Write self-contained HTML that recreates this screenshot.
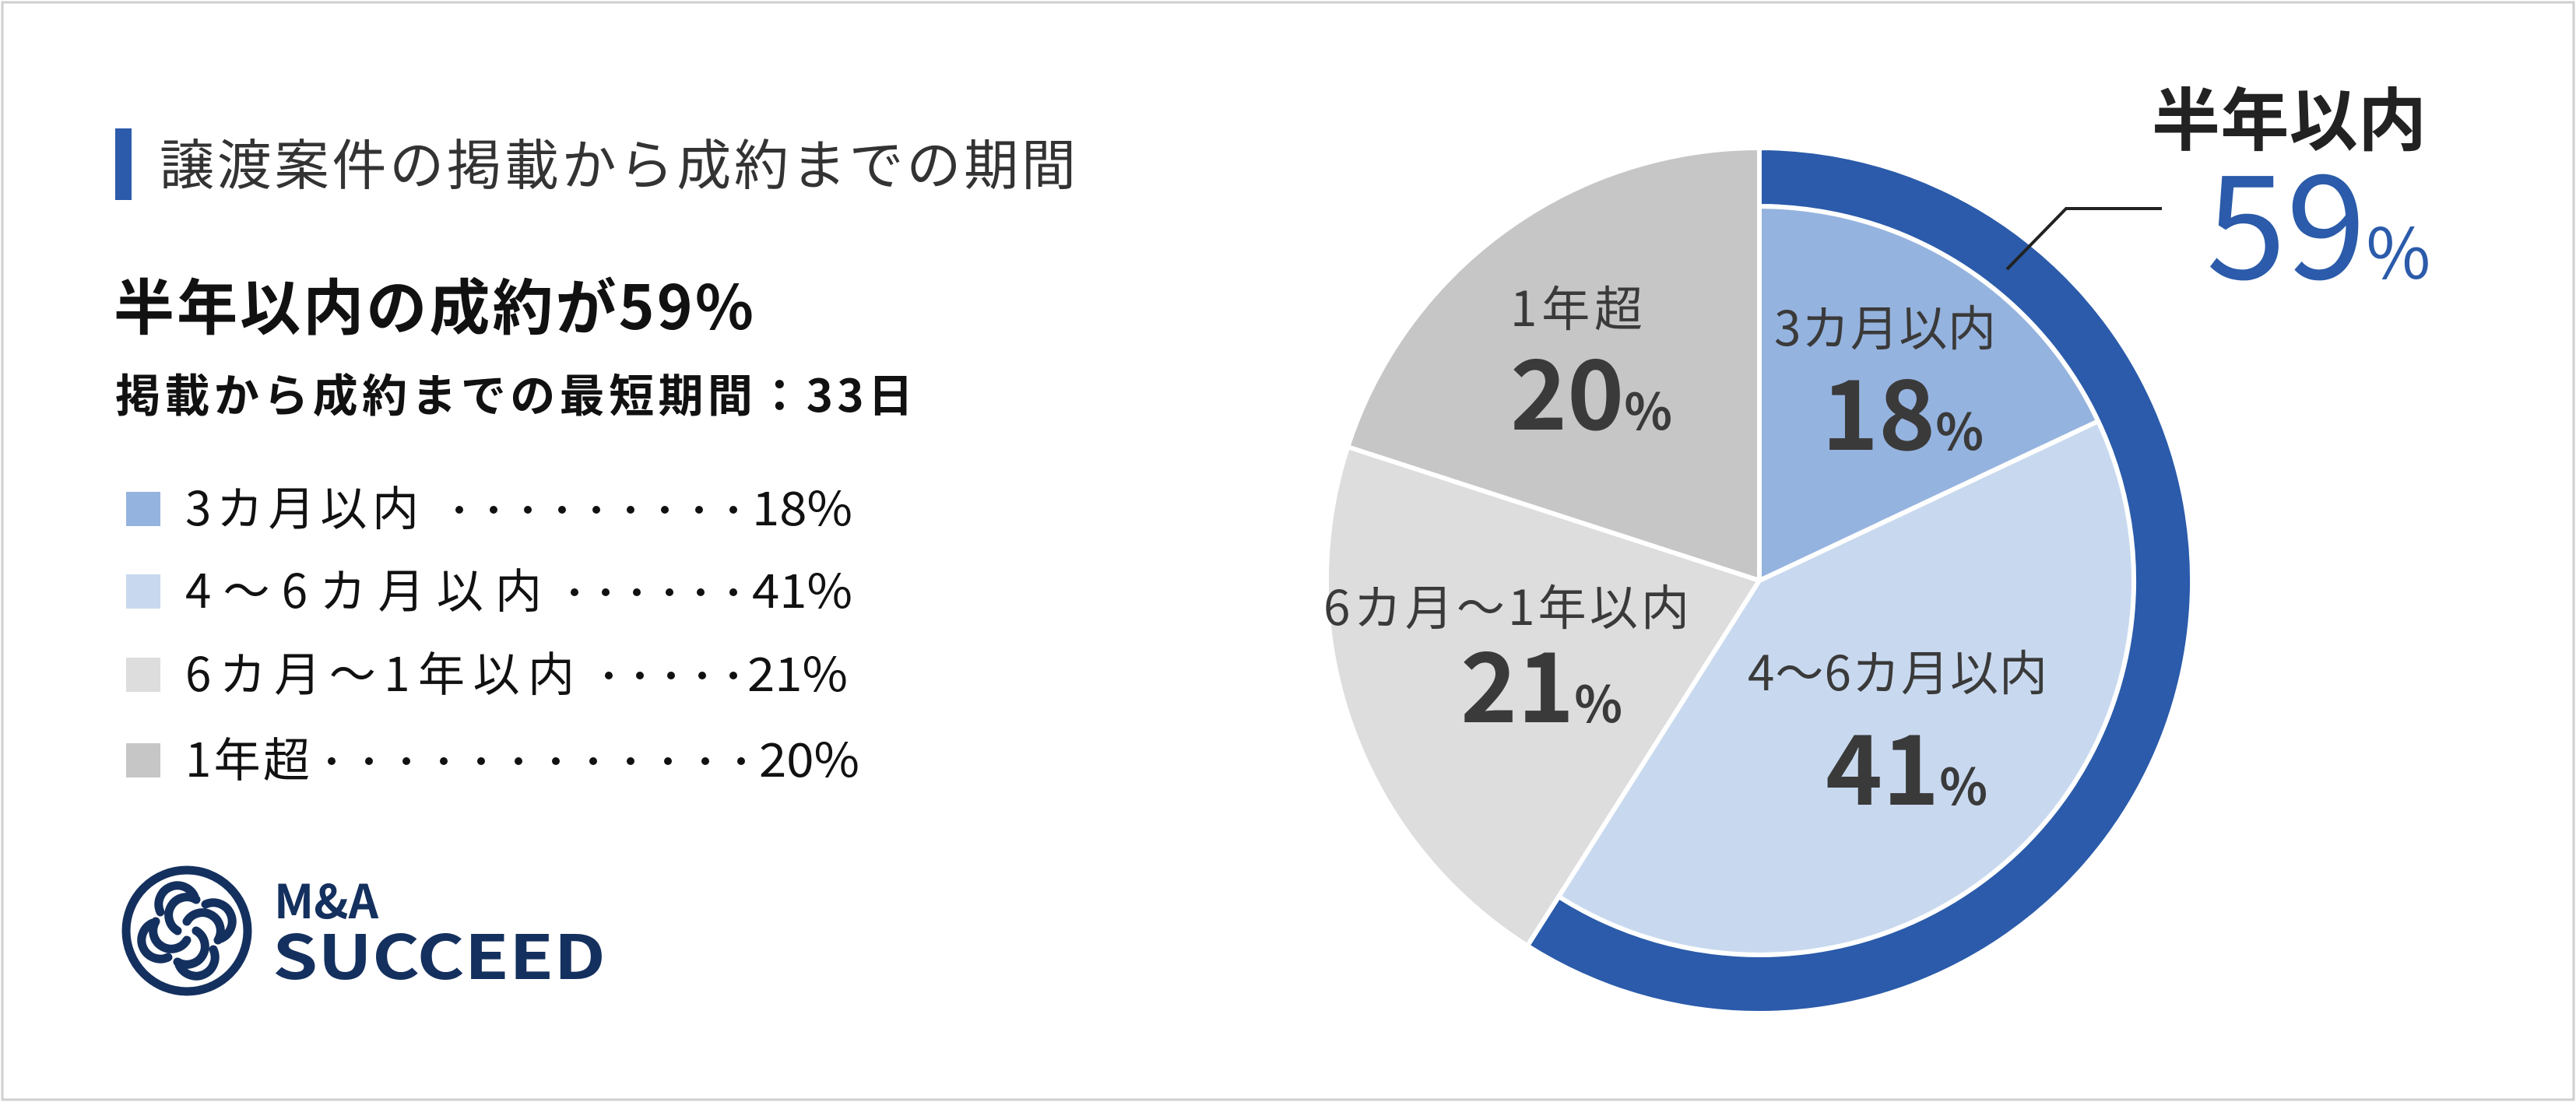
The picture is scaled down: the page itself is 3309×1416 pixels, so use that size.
<!DOCTYPE html>
<html><head><meta charset="utf-8"><style>
html,body{margin:0;padding:0;background:#fff}
svg{display:block}
text{font-family:"Noto Sans CJK JP","Liberation Sans",sans-serif}
</style></head><body>
<svg width="3309" height="1416" viewBox="0 0 3309 1416" xmlns="http://www.w3.org/2000/svg">
<rect x="3" y="3" width="3303" height="1410" fill="#fff" stroke="#cfcfcf" stroke-width="3"/>
<rect x="148" y="165" width="21" height="92" fill="#2B5BAA"/>
<text x="205" y="237" font-size="70" fill="#333" textLength="1177" lengthAdjust="spacing">譲渡案件の掲載から成約までの期間</text>
<text x="146" y="423" font-size="78" font-weight="bold" fill="#111" textLength="822" lengthAdjust="spacing">半年以内の成約が59%</text>
<text x="148" y="529" font-size="58" font-weight="bold" fill="#111" textLength="1025" lengthAdjust="spacing">掲載から成約までの最短期間：33日</text>
<g font-size="60" fill="#111">
<rect x="162" y="632" width="44" height="44" fill="#95B3DF"/>
<text x="238" y="675" textLength="300" lengthAdjust="spacing">3カ月以内</text>
<text x="966" y="675" textLength="129" lengthAdjust="spacingAndGlyphs">18%</text>
<rect x="162" y="738" width="44" height="44" fill="#C8D9EF"/>
<text x="238" y="781" textLength="458" lengthAdjust="spacing">4〜6カ月以内</text>
<text x="966" y="781" textLength="129" lengthAdjust="spacingAndGlyphs">41%</text>
<rect x="162" y="845" width="44" height="44" fill="#DDDDDD"/>
<text x="238" y="888" textLength="500" lengthAdjust="spacing">6カ月〜1年以内</text>
<text x="960" y="888" textLength="129" lengthAdjust="spacingAndGlyphs">21%</text>
<rect x="162" y="955" width="44" height="44" fill="#C6C6C6"/>
<text x="238" y="998" textLength="160" lengthAdjust="spacing">1年超</text>
<text x="975" y="998" textLength="129" lengthAdjust="spacingAndGlyphs">20%</text>
</g>
<g fill="#111">
<circle cx="590" cy="655" r="5"/><circle cx="634" cy="655" r="5"/><circle cx="678" cy="655" r="5"/><circle cx="722" cy="655" r="5"/><circle cx="766" cy="655" r="5"/><circle cx="810" cy="655" r="5"/><circle cx="854" cy="655" r="5"/><circle cx="898" cy="655" r="5"/><circle cx="942" cy="655" r="5"/>
<circle cx="738" cy="761" r="5"/><circle cx="778" cy="761" r="5"/><circle cx="818" cy="761" r="5"/><circle cx="860" cy="761" r="5"/><circle cx="900" cy="761" r="5"/><circle cx="942" cy="761" r="5"/>
<circle cx="782" cy="868" r="5"/><circle cx="822" cy="868" r="5"/><circle cx="862" cy="868" r="5"/><circle cx="902" cy="868" r="5"/><circle cx="942" cy="868" r="5"/>
<circle cx="426" cy="978" r="5"/><circle cx="474" cy="978" r="5"/><circle cx="522" cy="978" r="5"/><circle cx="570" cy="978" r="5"/><circle cx="618" cy="978" r="5"/><circle cx="666" cy="978" r="5"/><circle cx="714" cy="978" r="5"/><circle cx="762" cy="978" r="5"/><circle cx="810" cy="978" r="5"/><circle cx="858" cy="978" r="5"/><circle cx="906" cy="978" r="5"/><circle cx="952" cy="978" r="5"/>
</g>
<g fill="none" stroke="#14305e" stroke-width="11" stroke-linecap="round">
<circle cx="240" cy="1196" r="78"/>
<path d="M228 1196 a22 22 0 1 1 24 -40 M206 1172 a22 22 0 1 1 44 -20"/>
<path d="M252 1196 a22 22 0 1 1 -24 40 M274 1220 a22 22 0 1 1 -44 20"/>
<path d="M240 1184 a22 22 0 1 1 40 24 M264 1162 a22 22 0 1 1 20 44"/>
<path d="M240 1208 a22 22 0 1 1 -40 -24 M216 1230 a22 22 0 1 1 -20 -44"/>
</g>
<text x="352" y="1180" font-size="60" font-weight="bold" fill="#14305e">M&amp;A</text>
<text x="350" y="1258" font-size="78" font-weight="bold" fill="#14305e" textLength="428" lengthAdjust="spacingAndGlyphs">SUCCEED</text>
<g stroke="#fff" stroke-width="6" stroke-linejoin="round">
<path d="M2260 746 L1731.2 574.2 A556 556 0 0 1 2260 190 Z" fill="#C6C6C6"/>
<path d="M2260 746 L1962.1 1215.4 A556 556 0 0 1 1731.2 574.2 Z" fill="#DDDDDD"/>
<path d="M2260 746 L2695.2 541.2 A481 481 0 0 1 2002.3 1152.1 Z" fill="#C8D9EF"/>
<path d="M2260 746 L2260 265 A481 481 0 0 1 2695.2 541.2 Z" fill="#95B3DF"/>
<path d="M2260 190 A556 556 0 1 1 1962.1 1215.4 L2002.3 1152.1 A481 481 0 1 0 2260 265 Z" fill="#2B5BAA"/>
</g>
<g fill="#3a3a3a">
<text x="2279" y="444" font-size="62" textLength="285" lengthAdjust="spacing">3カ月以内</text>
<text x="2340" y="578" font-size="124" font-weight="bold">18<tspan font-size="64">%</tspan></text>
<text x="1940" y="419" font-size="62" textLength="170" lengthAdjust="spacing">1年超</text>
<text x="1940" y="552" font-size="124" font-weight="bold">20<tspan font-size="64">%</tspan></text>
<text x="1700" y="803" font-size="62" textLength="470" lengthAdjust="spacing">6カ月〜1年以内</text>
<text x="1876" y="928" font-size="124" font-weight="bold">21<tspan font-size="64">%</tspan></text>
<text x="2245" y="887" font-size="62" textLength="385" lengthAdjust="spacing">4〜6カ月以内</text>
<text x="2345" y="1034" font-size="124" font-weight="bold">41<tspan font-size="64">%</tspan></text>
</g>
<polyline points="2578,346 2654,268 2777,268" fill="none" stroke="#222" stroke-width="4"/>
<text x="2764" y="186" font-size="88" font-weight="bold" fill="#222" textLength="353" lengthAdjust="spacing">半年以内</text>
<text x="2834" y="358" font-size="185" fill="#2B5BAA">59<tspan font-size="90">%</tspan></text>
</svg>
</body></html>
